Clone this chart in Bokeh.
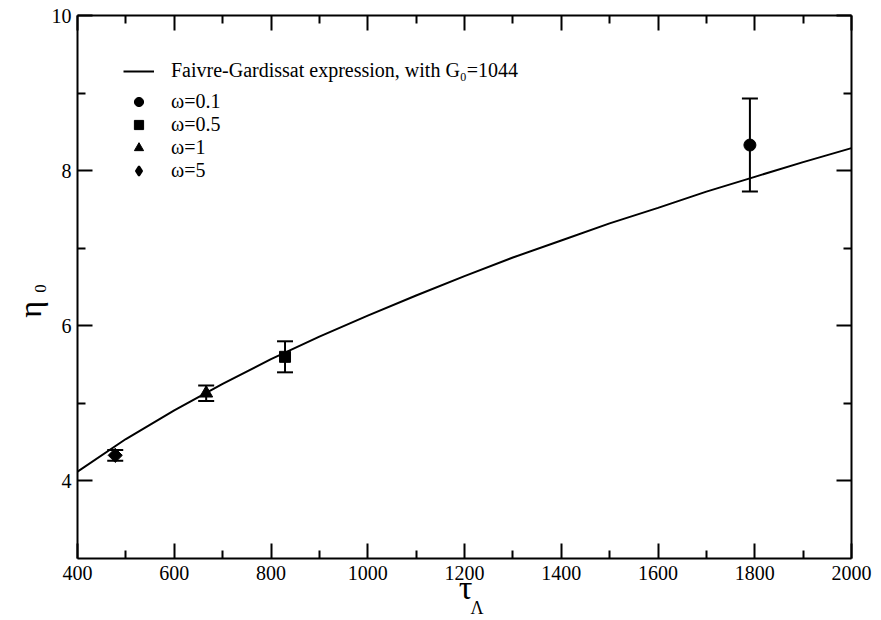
import numpy as np
from bokeh.plotting import figure
from bokeh.models import (ColumnDataSource, Whisker, TeeHead, Legend, LegendItem,
                          LinearAxis, FixedTicker, Label, CustomJSTickFormatter, Range1d)
from bokeh.embed import file_html
from bokeh.resources import INLINE

# ---- data ----
curve_tau = [400, 500, 600, 700, 800, 900, 1000, 1100, 1200, 1300, 1400,
             1500, 1600, 1700, 1800, 1900, 2000]
curve_eta = [4.12, 4.54, 4.91, 5.25, 5.57, 5.86, 6.13, 6.39, 6.64, 6.88, 7.10,
             7.32, 7.52, 7.73, 7.92, 8.11, 8.29]

omega_labels = ["ω=0.1", "ω=0.5", "ω=1", "ω=5"]
point_tau = [1790, 829, 666, 478]
point_eta = [8.33, 5.60, 5.13, 4.33]
point_err = [0.60, 0.20, 0.10, 0.07]

curve_label = "Faivre-Gardissat expression, with G₀=1044"
x_ticks = [400, 600, 800, 1000, 1200, 1400, 1600, 1800, 2000]
x_minor = [500, 700, 900, 1100, 1300, 1500, 1700, 1900]
y_ticks = [4, 6, 8, 10]
y_minor = [5, 7, 9]

FONT = "Liberation Serif"

p = figure(width=873, height=620, x_range=Range1d(400, 2000), y_range=Range1d(3, 10),
           output_backend="svg", toolbar_location=None,
           min_border_left=77, min_border_right=22, min_border_top=15, min_border_bottom=62)
p.xgrid.visible = False
p.ygrid.visible = False
p.outline_line_color = None
p.background_fill_color = "white"
p.border_fill_color = "white"

p.add_layout(LinearAxis(), "above")
p.add_layout(LinearAxis(), "right")


def style_axis(ax, ticks, minor, show_labels, standoff):
    ax.ticker = FixedTicker(ticks=ticks, minor_ticks=minor)
    ax.axis_line_width = 2
    ax.axis_line_color = "black"
    ax.major_tick_in = 15
    ax.major_tick_out = 0
    ax.minor_tick_in = 8
    ax.minor_tick_out = 0
    ax.major_tick_line_width = 2
    ax.minor_tick_line_width = 2
    ax.major_tick_line_color = "black"
    ax.minor_tick_line_color = "black"
    ax.major_label_text_font = FONT
    ax.major_label_text_font_size = "20px"
    ax.major_label_text_color = "black"
    if show_labels:
        ax.major_label_standoff = standoff
    else:
        ax.formatter = CustomJSTickFormatter(code="return ''")
        ax.major_label_standoff = 0


style_axis(p.below[0], x_ticks, x_minor, True, 7)
style_axis(p.above[0], x_ticks, x_minor, False, 0)
style_axis(p.left[0], y_ticks, y_minor, True, 6)
style_axis(p.right[0], y_ticks, y_minor, False, 0)

# curve
r_line = p.line(curve_tau, curve_eta, line_color="black", line_width=2)

# error bars
src = ColumnDataSource(dict(
    x=point_tau,
    y=point_eta,
    upper=[v + e for v, e in zip(point_eta, point_err)],
    lower=[v - e for v, e in zip(point_eta, point_err)],
))
p.add_layout(Whisker(source=src, base="x", upper="upper", lower="lower", dimension="height",
                     line_color="black", line_width=2,
                     upper_head=TeeHead(size=16, line_width=2, line_color="black"),
                     lower_head=TeeHead(size=16, line_width=2, line_color="black")))

markers = ["circle", "square", "triangle", "square"]
sizes = [12, 11, 13, 10]
angles = [0, 0, 0, np.pi / 4]
legend_markers = ["circle", "square", "triangle", "diamond"]
point_renderers = []
legend_renderers = []
for i in range(len(point_tau)):
    if legend_markers[i] != markers[i]:
        # swatch glyph for the legend (legend swatches are never rotated); it sits
        # underneath the rotated square drawn at the same point
        legend_renderers.append(p.scatter(x=[point_tau[i]], y=[point_eta[i]],
                                          marker=legend_markers[i], size=9,
                                          fill_color="black", line_color="black",
                                          line_width=2))
    r = p.scatter(x=[point_tau[i]], y=[point_eta[i]], marker=markers[i], size=sizes[i],
                  angle=angles[i], fill_color="black", line_color="black")
    point_renderers.append(r)
    if legend_markers[i] == markers[i]:
        legend_renderers.append(r)

# legends
leg1 = Legend(items=[LegendItem(label=curve_label, renderers=[r_line])],
              location=(46, 476), padding=0, margin=0, spacing=0,
              glyph_width=31, glyph_height=22, label_height=22, label_standoff=17,
              label_text_font=FONT, label_text_font_size="20px", label_text_color="black",
              border_line_color=None, background_fill_alpha=0)
leg2 = Legend(items=[LegendItem(label=omega_labels[i], renderers=[legend_renderers[i]])
                     for i in range(len(omega_labels))],
              location=(46, 376), padding=0, margin=0, spacing=0,
              glyph_width=31, glyph_height=23, label_height=23, label_standoff=17,
              label_text_font=FONT, label_text_font_size="20px", label_text_color="black",
              border_line_color=None, background_fill_alpha=0)
p.add_layout(leg1)
p.add_layout(leg2)

# axis titles (with subscripts), placed in side panels so that they are not clipped
p.add_layout(Label(x=1202, y=2.62, text="τ", text_font=FONT, text_font_size="34px",
                   text_align="center", text_baseline="middle", text_color="black"), "below")
p.add_layout(Label(x=1226, y=2.36, text="Λ", text_font=FONT, text_font_size="18px",
                   text_align="center", text_baseline="middle", text_color="black"), "right")
p.add_layout(Label(x=302, y=6.21, text="η", text_font=FONT, text_font_size="32px",
                   angle=np.pi / 2, text_align="center", text_baseline="middle",
                   text_color="black"), "left")
p.add_layout(Label(x=324, y=6.48, text="0", text_font=FONT, text_font_size="17px",
                   angle=np.pi / 2, text_align="center", text_baseline="middle",
                   text_color="black"), "left")

open("out.html", "w").write(file_html(p, INLINE))
